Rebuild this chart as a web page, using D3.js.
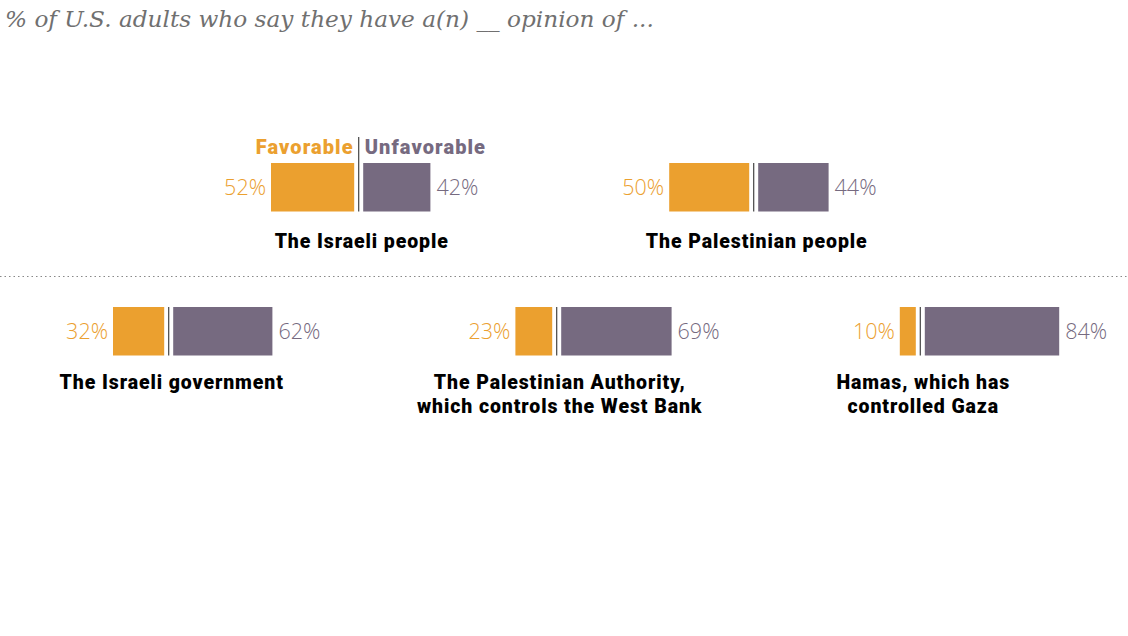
<!DOCTYPE html>
<html>
<head>
<meta charset="utf-8">
<script src="https://cdn.jsdelivr.net/npm/d3@7"></script>
<style>
  body { margin: 0; background: #fff; }
  svg { display: block; }
</style>
</head>
<body>
<svg id="chart" width="1128" height="636"></svg>
<script>
// data
const groups = [
  ["The Israeli people"],
  ["The Palestinian people"],
  ["The Israeli government"],
  ["The Palestinian Authority,", "which controls the West Bank"],
  ["Hamas, which has", "controlled Gaza"]
];
const favorable = [52, 50, 32, 23, 10];
const unfavorable = [42, 44, 62, 69, 84];
const legendLabels = ["Favorable", "Unfavorable"];
const title = "% of U.S. adults who say they have a(n) __ opinion of ...";

// layout: divider x and row for each panel
const centers = [358.7, 753.7, 168.7, 556.7, 920.3];
const rows = [0, 0, 1, 1, 1];
const rowTop = [163, 307];
const labelBase = [248, 389];
const barH = 48.5;
const gap = 4.5;

const orange = "#eba02f";
const purple = "#766a80";
const heavy = "Roboto";

const svg = d3.select("#chart");

svg.append("text")
  .attr("x", 5)
  .attr("y", 27)
  .attr("font-family", "DejaVu Serif")
  .attr("font-style", "italic")
  .attr("font-size", 23.2)
  .attr("fill", "#707070")
  .text(title);

const x = d3.scaleLinear().domain([0, 100]).range([0, 160]);

const data = groups.map((g, i) => ({
  label: g, fav: favorable[i], unfav: unfavorable[i],
  cx: centers[i], row: rows[i]
}));

const panel = svg.selectAll(".panel")
  .data(data)
  .enter()
  .append("g")
  .attr("class", "panel")
  .attr("transform", d => `translate(${d.cx},${rowTop[d.row]})`);

panel.append("rect")
  .attr("x", d => -gap - x(d.fav))
  .attr("y", 0)
  .attr("width", d => x(d.fav))
  .attr("height", barH)
  .attr("fill", orange);

panel.append("rect")
  .attr("x", gap)
  .attr("y", 0)
  .attr("width", d => x(d.unfav))
  .attr("height", barH)
  .attr("fill", purple);

panel.append("line")
  .attr("x1", 0).attr("x2", 0)
  .attr("y1", (d, i) => i === 0 ? -26 : 0)
  .attr("y2", barH)
  .attr("stroke", "#444")
  .attr("stroke-width", 1.2);

panel.append("text")
  .attr("x", d => -gap - x(d.fav) - 5)
  .attr("y", barH / 2 + 7.5)
  .attr("text-anchor", "end")
  .attr("font-family", "Open Sans")
  .attr("font-weight", 300)
  .attr("font-size", 21.5)
  .attr("fill", orange)
  .text(d => d.fav + "%");

panel.append("text")
  .attr("x", d => gap + x(d.unfav) + 6)
  .attr("y", barH / 2 + 7.5)
  .attr("font-family", "Open Sans")
  .attr("font-weight", 300)
  .attr("font-size", 21.5)
  .attr("fill", purple)
  .text(d => d.unfav + "%");

panel.append("text")
  .attr("x", 3)
  .attr("y", d => labelBase[d.row] - rowTop[d.row])
  .attr("text-anchor", "middle")
  .attr("font-family", heavy)
  .attr("font-weight", 900)
  .attr("font-size", 19.5)
  .attr("letter-spacing", 0.9)
  .attr("fill", "#000")
  .selectAll("tspan")
  .data(d => d.label)
  .enter()
  .append("tspan")
  .attr("x", 3)
  .attr("dy", (d, i) => i === 0 ? 0 : 24)
  .text(d => d);

// legend on first panel
const first = panel.filter((d, i) => i === 0);
first.append("text")
  .attr("x", -5)
  .attr("y", -9)
  .attr("text-anchor", "end")
  .attr("font-family", heavy)
  .attr("font-weight", 900)
  .attr("font-size", 20)
  .attr("letter-spacing", 1.1)
  .attr("fill", orange)
  .text(legendLabels[0]);
first.append("text")
  .attr("x", 6)
  .attr("y", -9)
  .attr("font-family", heavy)
  .attr("font-weight", 900)
  .attr("font-size", 20)
  .attr("letter-spacing", 1.1)
  .attr("fill", purple)
  .text(legendLabels[1]);

// dotted separator between rows
svg.append("line")
  .attr("x1", 0).attr("x2", 1128)
  .attr("y1", 276.5).attr("y2", 276.5)
  .attr("stroke", "#888")
  .attr("stroke-width", 1.2)
  .attr("stroke-dasharray", "1.5,3");
</script>
</body>
</html>
